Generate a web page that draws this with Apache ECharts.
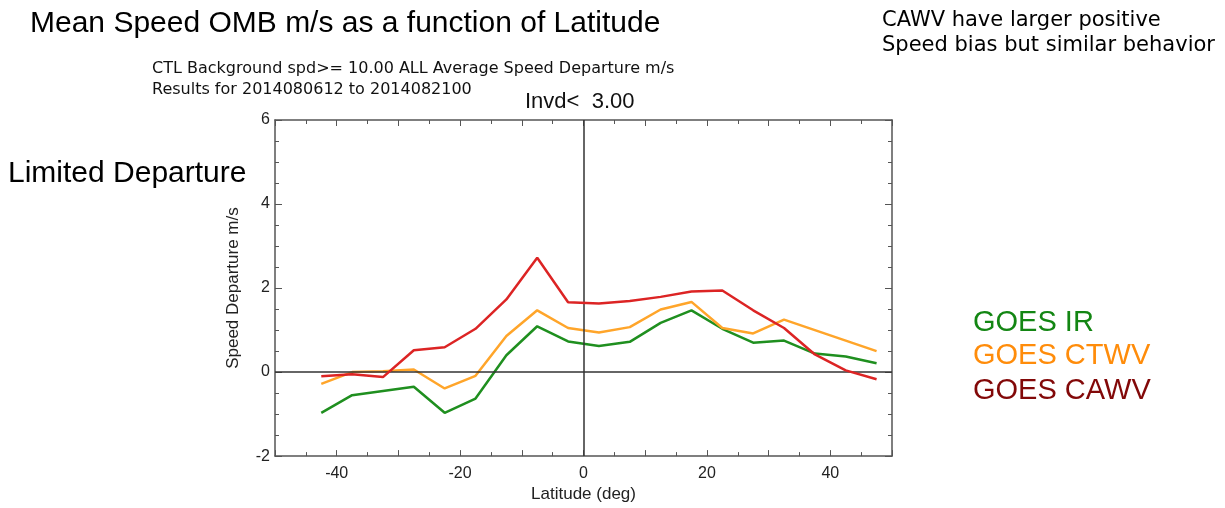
<!DOCTYPE html>
<html>
<head>
<meta charset="utf-8">
<script src="https://cdn.jsdelivr.net/npm/echarts@6/dist/echarts.min.js"></script>
<style>
html,body{margin:0;padding:0;background:#fff;}
#chart{width:1225px;height:508px;}
</style>
</head>
<body>
<div id="chart"></div>
<script>
var latitudes = [-42.5, -37.5, -32.5, -27.5, -22.5, -17.5, -12.5, -7.5, -2.5, 2.5, 7.5, 12.5, 17.5, 22.5, 27.5, 32.5, 37.5, 42.5, 47.5];
var goesIR   = [-0.97, -0.55, -0.45, -0.35, -0.97, -0.63, 0.40, 1.09, 0.73, 0.62, 0.72, 1.17, 1.47, 1.03, 0.70, 0.75, 0.44, 0.37, 0.21];
var goesCTWV = [-0.28, 0.00, 0.02, 0.06, -0.39, -0.09, 0.86, 1.47, 1.05, 0.94, 1.07, 1.49, 1.67, 1.05, 0.92, 1.25, 1.00, 0.75, 0.50];
var goesCAWV = [-0.10, -0.05, -0.12, 0.52, 0.59, 1.03, 1.73, 2.72, 1.66, 1.63, 1.69, 1.79, 1.92, 1.94, 1.47, 1.05, 0.42, 0.04, -0.17];
var seriesNames = ['GOES IR', 'GOES CTWV', 'GOES CAWV'];
var xTickLabels = [-40, -20, 0, 20, 40];
var yTickLabels = [-2, 0, 2, 4, 6];

function pairs(vals){ return latitudes.map(function(l,i){ return [l, vals[i]]; }); }

var chart = echarts.init(document.getElementById('chart'));
var FONT = '"Liberation Sans", Arial, sans-serif';
var WIDE = '"DejaVu Sans", sans-serif';
var axisCommon = {
  axisLine: {show: true, onZero: false, lineStyle: {color: '#555', width: 1.5}},
  splitLine: {show: false}
};
chart.setOption({
  animation: false,
  backgroundColor: '#fff',
  grid: {left: 275, top: 120, width: 617, height: 337, containLabel: false},
  xAxis: [
    Object.assign({
      type: 'value', min: -50, max: 50, interval: 10, position: 'bottom',
      name: 'Latitude (deg)', nameLocation: 'middle', nameGap: 28,
      nameTextStyle: {fontFamily: FONT, fontSize: 17, color: '#222'},
      axisTick: {show: true, inside: true, length: 6, lineStyle: {color: '#555'}},
      minorTick: {show: true, splitNumber: 2, length: 4, lineStyle: {color: '#555'}},
      axisLabel: {fontFamily: FONT, fontSize: 16, color: '#222', margin: 9,
        formatter: function(v){ return xTickLabels.indexOf(v) >= 0 ? String(v) : ''; }}
    }, axisCommon),
    Object.assign({
      type: 'value', min: -50, max: 50, interval: 10, position: 'top',
      axisTick: {show: true, inside: true, length: 6, lineStyle: {color: '#555'}},
      minorTick: {show: true, splitNumber: 2, length: 4, lineStyle: {color: '#555'}},
      axisLabel: {show: false}
    }, axisCommon)
  ],
  yAxis: [
    Object.assign({
      type: 'value', min: -2, max: 6, interval: 2, position: 'left',
      name: 'Speed Departure m/s', nameLocation: 'middle', nameGap: 33, nameRotate: 90,
      nameTextStyle: {fontFamily: FONT, fontSize: 17, color: '#222'},
      axisTick: {show: true, inside: true, length: 7, lineStyle: {color: '#555'}},
      minorTick: {show: true, splitNumber: 4, length: 4, lineStyle: {color: '#555'}},
      axisLabel: {fontFamily: FONT, fontSize: 16, color: '#222', margin: 5,
        formatter: function(v){ return yTickLabels.indexOf(v) >= 0 ? String(v) : ''; }}
    }, axisCommon),
    Object.assign({
      type: 'value', min: -2, max: 6, interval: 2, position: 'right',
      axisTick: {show: true, inside: true, length: 7, lineStyle: {color: '#555'}},
      minorTick: {show: true, splitNumber: 4, length: 4, lineStyle: {color: '#555'}},
      axisLabel: {show: false}
    }, axisCommon)
  ],
  series: [
    {
      name: seriesNames[0], type: 'line', data: pairs(goesIR), symbol: 'none',
      lineStyle: {color: '#1f8f1f', width: 2.5}, z: 3,
      markLine: {
        silent: true, symbol: 'none', label: {show: false},
        lineStyle: {color: '#333', width: 1.5, type: 'solid'},
        data: [{xAxis: 0}, {yAxis: 0}]
      }
    },
    {name: seriesNames[1], type: 'line', data: pairs(goesCTWV), symbol: 'none',
      lineStyle: {color: '#ffa52a', width: 2.5}, z: 4},
    {name: seriesNames[2], type: 'line', data: pairs(goesCAWV), symbol: 'none',
      lineStyle: {color: '#dc2424', width: 2.5}, z: 5}
  ],
  graphic: [
    {type: 'text', left: 30, top: 9, style: {text: 'Mean Speed OMB m/s as a function of Latitude', font: '30px ' + FONT, fill: '#000'}},
    {type: 'text', left: 152, top: 61, style: {text: 'CTL Background spd>= 10.00 ALL Average Speed Departure m/s', font: '16px ' + WIDE, fill: '#111'}},
    {type: 'text', left: 152, top: 82, style: {text: 'Results for 2014080612 to 2014082100', font: '16px ' + WIDE, fill: '#111'}},
    {type: 'text', left: 525, top: 91, style: {text: 'Invd<  3.00', font: '22px ' + FONT, fill: '#111'}},
    {type: 'text', left: 882, top: 8, style: {text: 'CAWV have larger positive\nSpeed bias but similar behavior', font: '21px ' + WIDE, lineHeight: 25, fill: '#000'}},
    {type: 'text', left: 8, top: 159, style: {text: 'Limited Departure', font: '30px ' + FONT, fill: '#000'}},
    {type: 'text', left: 973, top: 308, style: {text: 'GOES IR', font: '29px ' + FONT, fill: '#138613'}},
    {type: 'text', left: 973, top: 341, style: {text: 'GOES CTWV', font: '29px ' + FONT, fill: '#ff8c0a'}},
    {type: 'text', left: 973, top: 376, style: {text: 'GOES CAWV', font: '29px ' + FONT, fill: '#820808'}}
  ]
});
</script>
</body>
</html>
